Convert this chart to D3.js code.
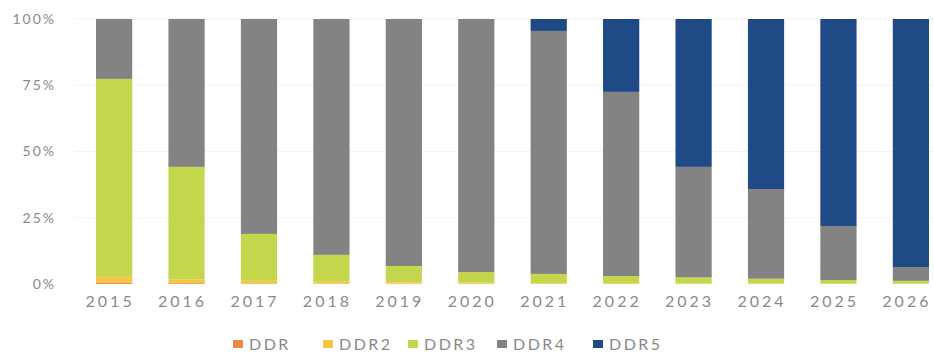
<!DOCTYPE html>
<html>
<head>
<meta charset="utf-8">
<script src="https://cdn.jsdelivr.net/npm/d3@7"></script>
<style>
  body { margin: 0; background: #fff; }
  svg text { font-family: Lato, "Open Sans", sans-serif; fill: #8a8a8a; }
</style>
</head>
<body>
<div id="chart"></div>
<script>
// Data (shares in %)
const years = ["2015", "2016", "2017", "2018", "2019", "2020", "2021", "2022", "2023", "2024", "2025", "2026"];
const seriesNames = ["DDR", "DDR2", "DDR3", "DDR4", "DDR5"];
const ddr  = [0.4, 0.3, 0.2, 0.1, 0.1, 0.1, 0.1, 0.1, 0, 0, 0, 0];
const ddr2 = [2.2, 1.4, 1.0, 0.8, 0.5, 0.4, 0.3, 0.3, 0.2, 0.2, 0.1, 0.1];
const ddr3 = [74.8, 42.5, 17.7, 10.1, 6.2, 4.0, 3.4, 2.6, 2.3, 1.8, 1.4, 1.1];
const ddr5 = [0, 0, 0, 0, 0, 0, 4.5, 27.5, 55.8, 64.2, 78.1, 93.6];
const ddr4 = years.map((_, i) => 100 - ddr[i] - ddr2[i] - ddr3[i] - ddr5[i]);
const yTicks = [0, 25, 50, 75, 100];

const colors = {
  DDR: "#f08a4b",
  DDR2: "#f8c443",
  DDR3: "#c4d64c",
  DDR4: "#838383",
  DDR5: "#1f4a86"
};

const width = 934, height = 352;
const rows = years.map((y, i) => ({
  year: y, DDR: ddr[i], DDR2: ddr2[i], DDR3: ddr3[i], DDR4: ddr4[i], DDR5: ddr5[i]
}));

const svg = d3.select("#chart").append("svg")
  .attr("width", width)
  .attr("height", height);

const x = d3.scaleBand()
  .domain(years)
  .range([96, 929])
  .paddingInner(0.5)
  .paddingOuter(0);

const y = d3.scaleLinear()
  .domain([0, 100])
  .range([284, 19]);

// faint gridlines
svg.append("g")
  .selectAll("line")
  .data(yTicks.slice(1))
  .join("line")
  .attr("x1", 75)
  .attr("x2", 934)
  .attr("y1", d => y(d))
  .attr("y2", d => y(d))
  .attr("stroke", "#f3f3f3")
  .attr("stroke-width", 1);

// stacked bars
const stacked = d3.stack().keys(seriesNames)(rows);
svg.append("g")
  .selectAll("g")
  .data(stacked)
  .join("g")
  .attr("fill", d => colors[d.key])
  .selectAll("rect")
  .data(d => d)
  .join("rect")
  .attr("x", d => x(d.data.year))
  .attr("width", x.bandwidth())
  .attr("y", d => y(d[1]))
  .attr("height", d => y(d[0]) - y(d[1]));

// y axis
const yAxis = svg.append("g")
  .attr("transform", "translate(58,0)")
  .call(d3.axisLeft(y).tickValues(yTicks).tickFormat(d => d + "%").tickSize(0).tickPadding(2));
yAxis.select(".domain").remove();
yAxis.selectAll("text")
  .style("font-size", "14px")
  .style("letter-spacing", "2px")
  .attr("fill", "#8a8a8a");

// x axis
const xAxis = svg.append("g")
  .attr("transform", "translate(-4,284)")
  .call(d3.axisBottom(x).tickSize(0).tickPadding(12));
xAxis.select(".domain").remove();
xAxis.selectAll("text")
  .style("font-size", "16px")
  .style("letter-spacing", "3px")
  .attr("fill", "#8a8a8a");

// legend
const legendX = [233, 323, 408, 497, 593];
const legend = svg.append("g").attr("transform", "translate(0,344)");
const items = legend.selectAll("g")
  .data(seriesNames)
  .join("g")
  .attr("transform", (d, i) => `translate(${legendX[i]},0)`);
items.append("rect")
  .attr("x", 0)
  .attr("y", -4)
  .attr("width", 10)
  .attr("height", 8)
  .attr("fill", d => colors[d]);
items.append("text")
  .attr("x", 16)
  .attr("y", 6)
  .style("font-size", "16px")
  .style("letter-spacing", "2.5px")
  .text(d => d);
</script>
</body>
</html>
